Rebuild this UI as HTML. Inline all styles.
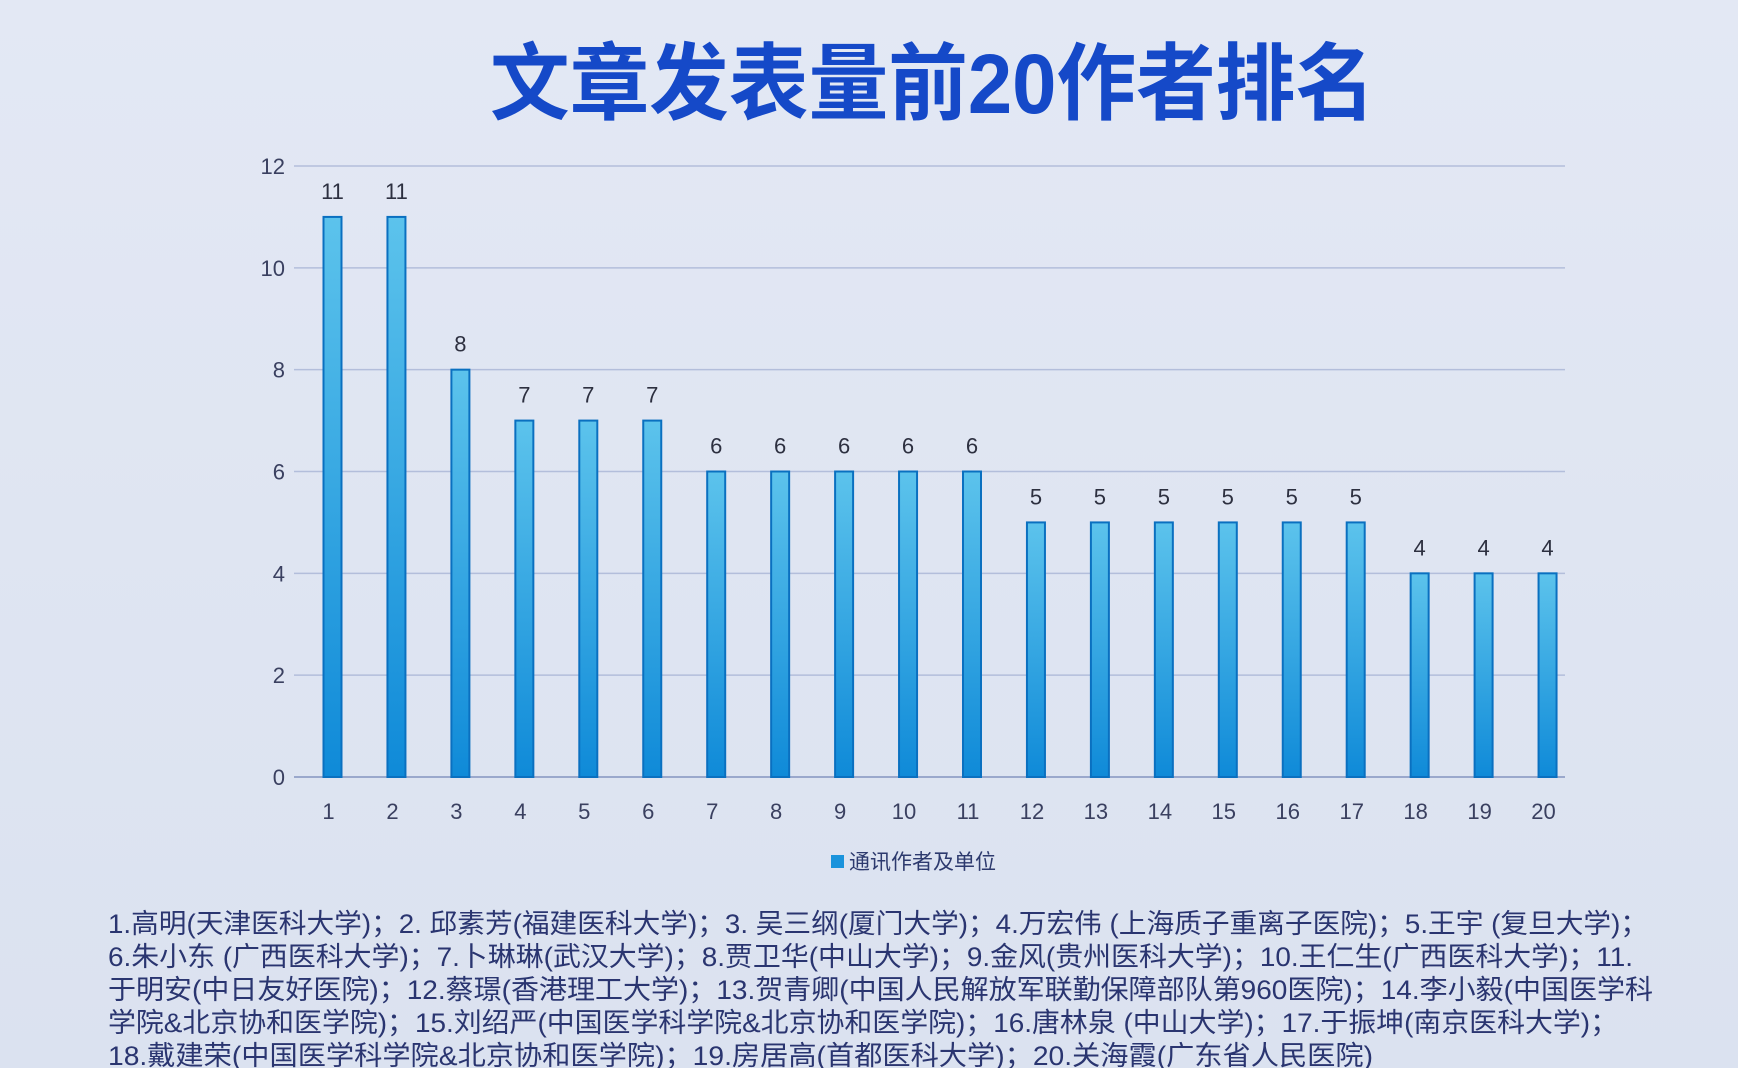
<!DOCTYPE html>
<html><head><meta charset="utf-8"><style>
html,body{margin:0;padding:0;background:#dfe5f1;}
svg{display:block;}
</style></head><body>
<svg id="chart" width="1738" height="1068" xmlns="http://www.w3.org/2000/svg" font-family="'Liberation Sans','Noto Sans CJK SC',sans-serif">
<defs>
<linearGradient id="bg" x1="0" y1="0" x2="0" y2="1"><stop offset="0" stop-color="#e3e8f4"/><stop offset="1" stop-color="#dbe2f0"/></linearGradient>
<linearGradient id="barg" x1="0" y1="0" x2="0" y2="1"><stop offset="0" stop-color="#5cc3ec"/><stop offset="1" stop-color="#0f8ad8"/></linearGradient>
</defs>
<rect width="1738" height="1068" fill="url(#bg)"/>
<text x="490" y="113" textLength="885" lengthAdjust="spacingAndGlyphs" font-size="84" font-weight="bold" fill="#1549c8" font-family="'Liberation Sans','Noto Sans CJK SC',sans-serif">文章发表量前20作者排名</text>
<g id="grid"></g><g id="bars"></g><g id="labels"></g>
<g>
<rect x="831" y="855" width="13" height="13" fill="#1a93dc"/>
<text x="849" y="869" font-size="21" fill="#2d3a6e">通讯作者及单位</text>
</g>
<g id="footer" font-size="27" fill="#2a3570"></g>
</svg>
<script>
const categories=["1","2","3","4","5","6","7","8","9","10","11","12","13","14","15","16","17","18","19","20"];
const values=[11,11,8,7,7,7,6,6,6,6,6,5,5,5,5,5,5,4,4,4];
const yTicks=[0,2,4,6,8,10,12];
const NS="http://www.w3.org/2000/svg";
const y0=777,y12=166,xFirst=332.5,xStep=63.95,bw=18;
function yScale(v){return y0-(y0-y12)*v/12;}
function xScale(i){return xFirst+i*xStep;}
function mk(tag,attrs,parent){const e=document.createElementNS(NS,tag);for(const k in attrs)e.setAttribute(k,attrs[k]);parent.appendChild(e);return e;}
const grid=document.getElementById('grid'),bars=document.getElementById('bars'),labels=document.getElementById('labels');
yTicks.forEach(t=>{
 const l=mk('line',{x1:294,x2:1565,y1:yScale(t),y2:yScale(t),stroke:t===0?'#9aa8cc':'#b3bedb','stroke-width':t===0?2:1.5},grid);
 
 
 const tx=mk('text',{x:285,y:yScale(t)+8,'text-anchor':'end','font-size':22,fill:'#3a4060'},grid);
 tx.textContent=t;
 
 
});
values.forEach((v,i)=>{
 const cx=xScale(i);
 const r=mk('rect',{x:cx-bw/2,y:yScale(v),width:bw,height:y0-yScale(v),fill:'url(#barg)',stroke:'#0a70c0','stroke-width':2},bars);
 
 
 const vt=mk('text',{x:cx,y:yScale(v)-18,'text-anchor':'middle','font-size':22,fill:'#2d3040'},labels);
 vt.textContent=v;
 
 
 const ct=mk('text',{x:cx-4,y:819,'text-anchor':'middle','font-size':22,fill:'#3a4060'},labels);
 ct.textContent=categories[i];
 
 
});
const footerLines=[
"1.高明(天津医科大学)；2. 邱素芳(福建医科大学)；3. 吴三纲(厦门大学)；4.万宏伟 (上海质子重离子医院)；5.王宇 (复旦大学)；",
"6.朱小东 (广西医科大学)；7.卜琳琳(武汉大学)；8.贾卫华(中山大学)；9.金风(贵州医科大学)；10.王仁生(广西医科大学)；11.",
"于明安(中日友好医院)；12.蔡璟(香港理工大学)；13.贺青卿(中国人民解放军联勤保障部队第960医院)；14.李小毅(中国医学科",
"学院&北京协和医学院)；15.刘绍严(中国医学科学院&北京协和医学院)；16.唐林泉 (中山大学)；17.于振坤(南京医科大学)；",
"18.戴建荣(中国医学科学院&北京协和医学院)；19.房居高(首都医科大学)；20.关海霞(广东省人民医院)"];
const footerWidths=[1540,1525,1545,1510,1265];
const footer=document.getElementById('footer');
footerLines.forEach((s,i)=>{
 const t=mk('text',{x:108,y:933+i*33,textLength:footerWidths[i],lengthAdjust:'spacingAndGlyphs'},footer);
 t.textContent=s;
 
 
});
</script>
</body></html>
